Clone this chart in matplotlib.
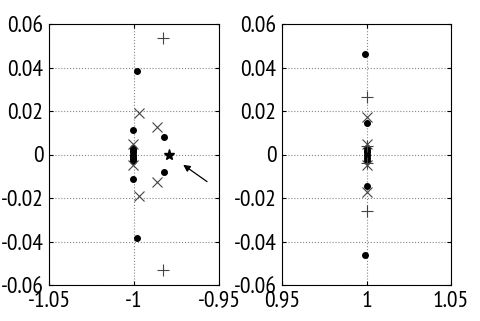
import matplotlib
matplotlib.use('Agg')
import matplotlib.pyplot as plt
import numpy as np

plt.rcParams['font.family'] = ['PT Sans Narrow', 'DejaVu Sans']

# left panel: poles near -1
l_dot_x = [-0.9985, -0.9985, -1.0004, -1.0004, -0.9825, -0.9825,
           -1.0004, -1.0004, -1.0004, -1.0004, -1.0004, -1.0004, -1.0004]
l_dot_y = [0.0385, -0.0385, 0.0111, -0.0111, 0.0082, -0.0082,
           0.003, 0.002, 0.001, 0.0, -0.001, -0.002, -0.003]
l_x_x = [-0.9971, -0.9971, -0.9865, -0.9865, -1.0004, -1.0004]
l_x_y = [0.019, -0.019, 0.0128, -0.0128, 0.005, -0.005]
l_plus_x = [-0.9829, -0.9829]
l_plus_y = [0.0535, -0.0532]
l_star_x = [-0.9792]
l_star_y = [0.0]

# right panel: poles near +1
r_dot_x = [0.9990, 0.9990, 1.0003, 1.0003, 1.0003, 1.0003, 1.0003, 1.0003, 1.0003, 1.0003]
r_dot_y = [0.046, -0.046, 0.0143, -0.0143, 0.003, 0.0015, 0.0, -0.0015, -0.003, 0.001]
r_x_x = [1.0003, 1.0003, 1.0003, 1.0003]
r_x_y = [0.0174, -0.0174, 0.005, -0.005]
r_plus_x = [1.0, 1.0, 1.0003, 1.0003]
r_plus_y = [0.0263, -0.026, 0.004, -0.004]

yticks = [-0.06, -0.04, -0.02, 0, 0.02, 0.04, 0.06]
ylabels = ['-0.06', '-0.04', '-0.02', '0', '0.02', '0.04', '0.06']

fig = plt.figure(figsize=(4.81, 3.21), dpi=100)
ax1 = fig.add_axes([49/481, 1-285/321, 170/481, 261/321])
ax2 = fig.add_axes([282/481, 1-285/321, 169/481, 261/321])

for ax in (ax1, ax2):
    ax.set_ylim(-0.06, 0.06)
    ax.set_yticks(yticks)
    ax.set_yticklabels(ylabels)
    ax.grid(True, linestyle=':', color='#888888', linewidth=0.8)
    ax.tick_params(direction='in', length=3, labelsize=17, top=True, right=True)
    ax.tick_params(axis='y', pad=4)
    ax.tick_params(axis='x', pad=4)
    for s in ax.spines.values():
        s.set_linewidth(0.8)

ax1.set_xlim(-1.05, -0.95)
ax1.set_xticks([-1.05, -1, -0.95])
ax1.set_xticklabels(['-1.05', '-1', '-0.95'])
ax2.set_xlim(0.95, 1.05)
ax2.set_xticks([0.95, 1, 1.05])
ax2.set_xticklabels(['0.95', '1', '1.05'])

ax1.plot(l_dot_x, l_dot_y, 'o', color='black', markersize=4, linestyle='none')
ax1.plot(l_x_x, l_x_y, 'x', color='#444444', markersize=7, markeredgewidth=0.8, linestyle='none')
ax1.plot(l_plus_x, l_plus_y, '+', color='#444444', markersize=9, markeredgewidth=0.8, linestyle='none')
ax1.plot(l_star_x, l_star_y, '*', color='black', markersize=8, linestyle='none')
ax1.annotate('', xy=(-0.9724, -0.0040), xytext=(-0.9557, -0.0132),
             arrowprops=dict(arrowstyle='-|>', color='black', lw=0.9, mutation_scale=10))

ax2.plot(r_dot_x, r_dot_y, 'o', color='black', markersize=4, linestyle='none')
ax2.plot(r_x_x, r_x_y, 'x', color='#444444', markersize=7, markeredgewidth=0.8, linestyle='none')
ax2.plot(r_plus_x, r_plus_y, '+', color='#444444', markersize=9, markeredgewidth=0.8, linestyle='none')

fig.savefig('out.png', dpi=100)
